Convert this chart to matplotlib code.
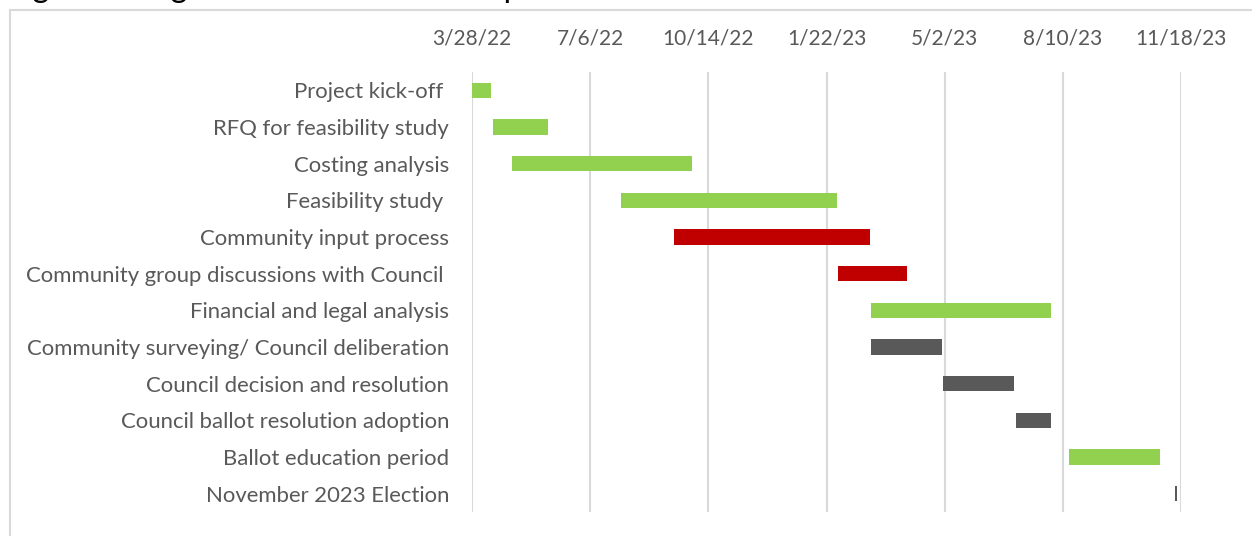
import pandas as pd
import matplotlib
matplotlib.use('Agg')
import matplotlib.pyplot as plt
import matplotlib.dates as mdates
from matplotlib.lines import Line2D
from matplotlib.font_manager import FontProperties

# task names (trailing spaces kept as in the source sheet)
tasks = ['Project kick-off ', 'RFQ for feasibility study', 'Costing analysis',
         'Feasibility study ', 'Community input process',
         'Community group discussions with Council ',
         'Financial and legal analysis',
         'Community surveying/ Council deliberation',
         'Council decision and resolution', 'Council ballot resolution adoption',
         'Ballot education period', 'November 2023 Election']
start_dates = ['3/28/22', '4/15/22', '5/1/22', '8/1/22', '9/15/22', '2/1/23',
               '3/1/23', '3/1/23', '5/1/23', '7/1/23', '8/15/23', '11/13/23']
end_dates = ['4/13/22', '5/31/22', '9/30/22', '1/31/23', '2/28/23', '3/31/23',
             '7/31/23', '4/30/23', '6/30/23', '7/31/23', '10/31/23', '11/15/23']
status = ['done', 'done', 'done', 'done', 'late', 'late',
          'done', 'todo', 'todo', 'todo', 'done', 'todo']
tick_labels = ['3/28/22', '7/6/22', '10/14/22', '1/22/23', '5/2/23', '8/10/23', '11/18/23']
caption = 'Figure 1: High-level timeline of the process'

colors = {'done': '#92D050', 'late': '#C00000', 'todo': '#595959'}
text_color = '#595959'
grid_color = '#D9D9D9'

plt.rcParams['font.family'] = ['Lato', 'DejaVu Sans']

starts = mdates.date2num(pd.to_datetime(start_dates, format='%m/%d/%y'))
ends = mdates.date2num(pd.to_datetime(end_dates, format='%m/%d/%y'))
ticks = mdates.date2num(pd.to_datetime(tick_labels, format='%m/%d/%y'))

W, H = 1252, 536
fig = plt.figure(figsize=(W / 100, H / 100), dpi=100)
ax = fig.add_axes([472 / W, 1 - 512 / H, 709 / W, 440 / H])

y = range(len(tasks))
ax.barh(y, ends - starts, left=starts, height=0.41,
        color=[colors[s] for s in status], zorder=3)

ax.set_xlim(ticks[0], ticks[-1])
ax.set_ylim(len(tasks) - 0.5, -0.5)
ax.set_xticks(ticks)
ax.set_xticklabels(tick_labels)
ax.set_yticks(list(y))
ax.set_yticklabels(tasks)
ax.xaxis.tick_top()
ax.tick_params(axis='x', length=0, pad=17, labelsize=15, labelcolor=text_color)
ax.tick_params(axis='y', length=0, pad=16.5, labelsize=15.9, labelcolor=text_color)
ax.grid(axis='x', color=grid_color, linewidth=1.5, zorder=0)
for s in ax.spines.values():
    s.set_visible(False)

# chart frame (only left and top edges are in view)
fig.add_artist(Line2D([9.5 / W, 9.5 / W], [0, 1 - 10 / H], color=grid_color, lw=1.5))
fig.add_artist(Line2D([9.5 / W, 1], [1 - 10 / H, 1 - 10 / H], color=grid_color, lw=1.5))

# caption sits above the crop, only its descenders show;
# size it so the first 'g' and the 'p' land where they do in the original
r = fig.canvas.get_renderer()


def text_w(s, size):
    prop = FontProperties(family=['Lato', 'DejaVu Sans'], size=size)
    return r.get_text_width_height_descent(s, prop, ismath=False)


i_g = caption.index('g')
i_p = caption.index('process')
base = 17
x_g = text_w(caption[:i_g + 1], base)[0] - text_w('g', base)[0]
x_p = text_w(caption[:i_p + 1], base)[0] - text_w('p', base)[0]
size = base * (504 - 33) / (x_p - x_g)
x_g = text_w(caption[:i_g + 1], size)[0] - text_w('g', size)[0]
desc = text_w('g', size)[2]
fig.text((33 - x_g) / W, 1 + (desc - 3) / H, caption,
         fontsize=size, color='black', va='baseline', ha='left')

fig.savefig('out.png', dpi=100)
